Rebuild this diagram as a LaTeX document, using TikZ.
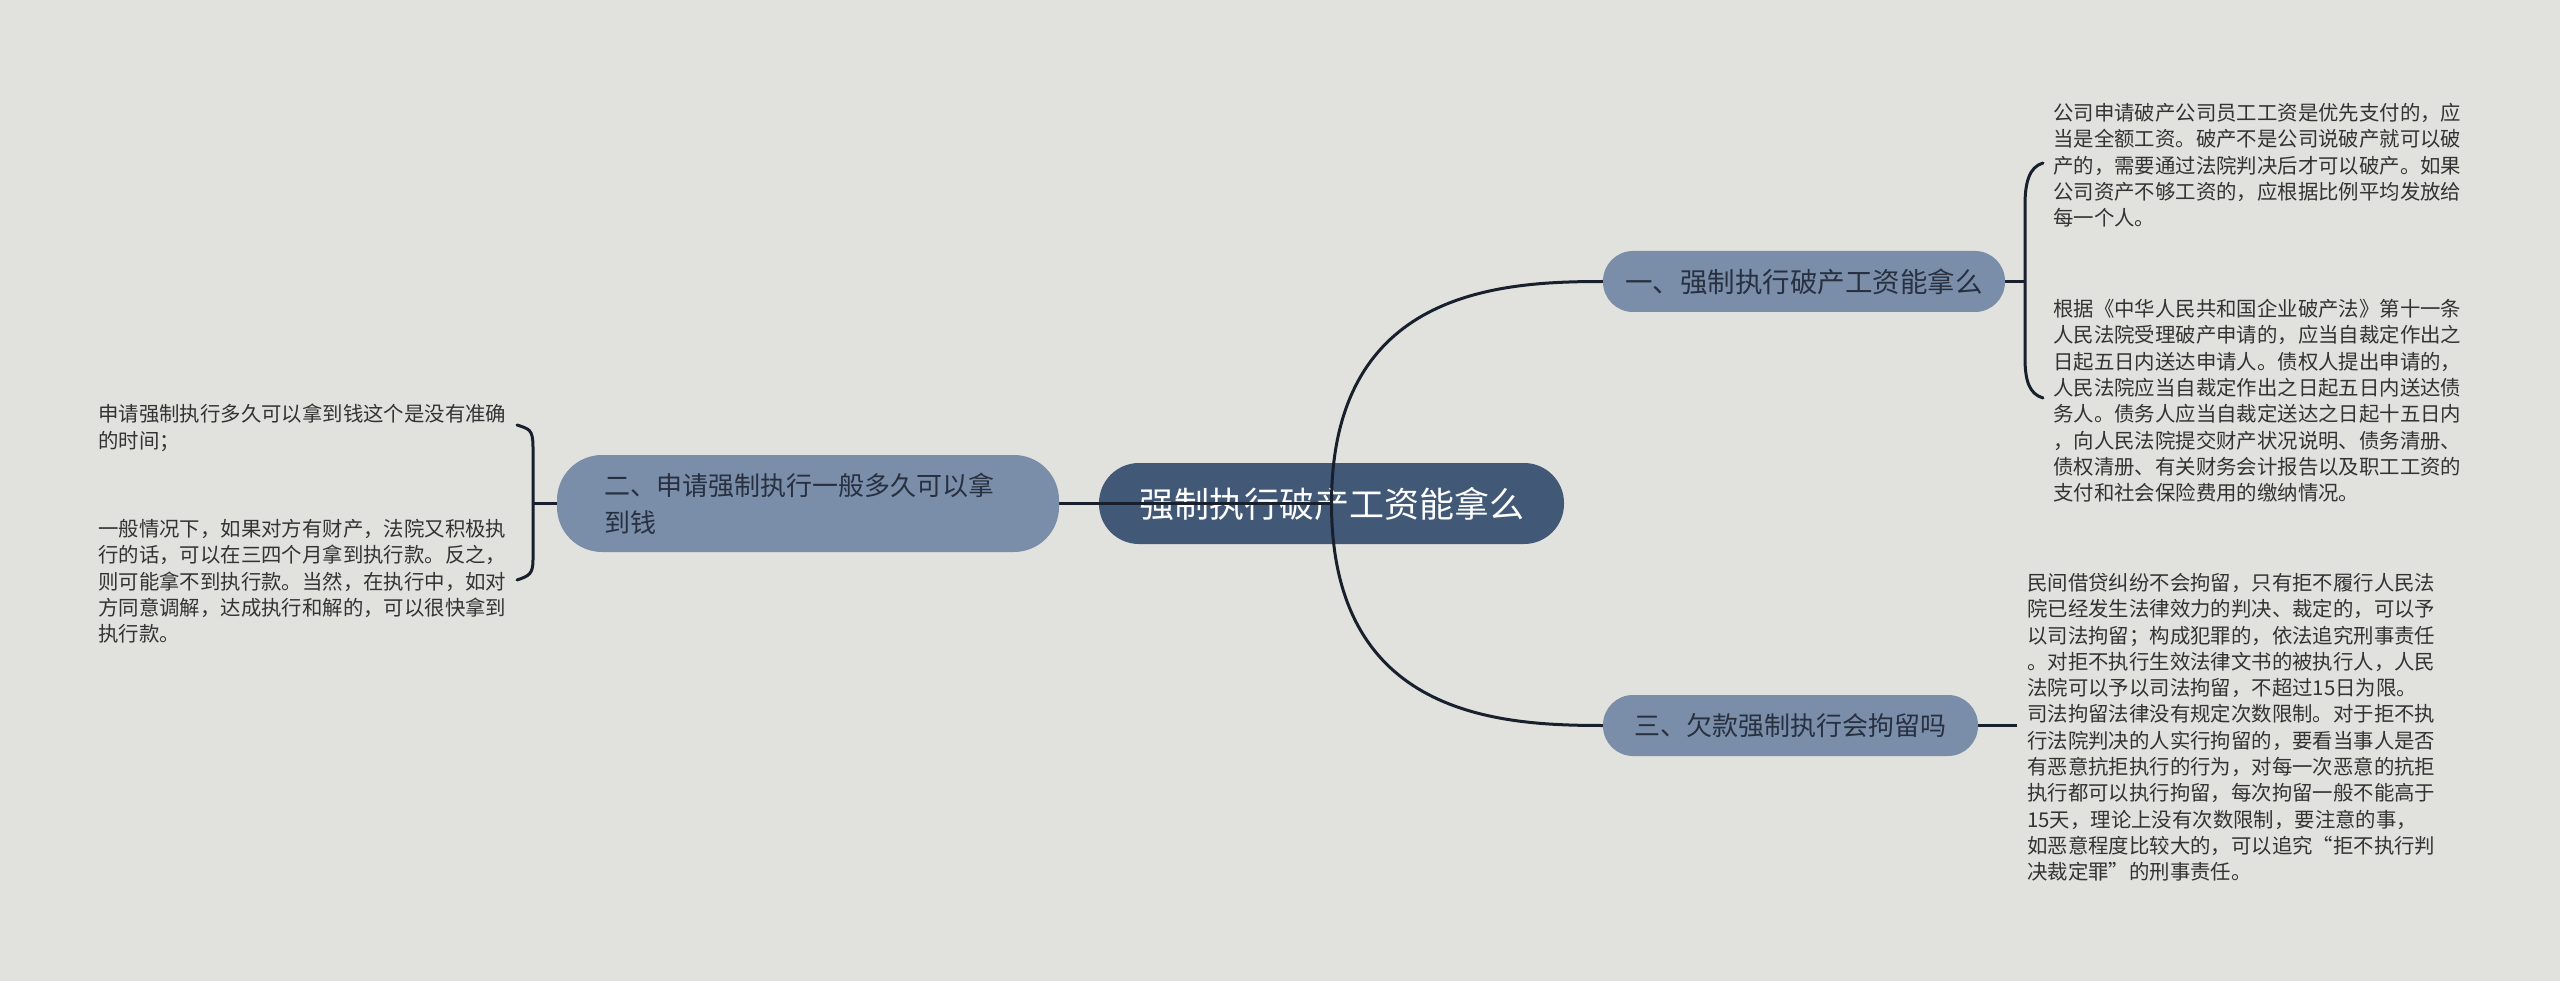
\documentclass[tikz,border=0pt]{standalone}
\usepackage{fontspec}
\newfontfamily\cjk{Noto Sans CJK SC}
\definecolor{bgc}{HTML}{E1E2DE}
\definecolor{rootc}{HTML}{415977}
\definecolor{branchc}{HTML}{7A8EAA}
\definecolor{linec}{HTML}{18202E}
\definecolor{txtc}{HTML}{283040}
\definecolor{leafc}{HTML}{333333}
\pgfdeclarelayer{back}
\pgfdeclarelayer{mid}
\pgfsetlayers{back,mid,main}
\begin{document}
\begin{tikzpicture}[x=1pt,y=-1pt,
  rootbox/.style={rectangle, rounded corners=40pt, fill=rootc, text=white,
    font=\cjk\fontsize{35}{42}\selectfont, minimum width=465pt, minimum height=81pt, inner sep=0pt},
  branchbox/.style={rectangle, rounded corners=30pt, fill=branchc, text=txtc,
    minimum height=61pt, inner sep=0pt},
  leaf/.style={anchor=north west, align=left, inner sep=0pt, text=leafc,
    font=\cjk\fontsize{20.4}{26.3}\selectfont},
  conn/.style={draw=linec, line width=3pt},
  brk/.style={draw=linec, line width=3pt, line cap=round},
]
\useasboundingbox (0,0) rectangle (2560,981);
\begin{pgfonlayer}{back}
  \fill[bgc] (0,0) rectangle (2560,981);
  \node[rootbox] (root) at (1331.5,503.5) {强制执行破产工资能拿么};
\end{pgfonlayer}

% branch nodes
\node[branchbox, minimum width=402pt, font=\cjk\fontsize{27.5}{34}\selectfont] (n1) at (1804,281.5) {一、强制执行破产工资能拿么};
\node[branchbox, minimum width=502pt, minimum height=97pt, rounded corners=45pt, text width=408pt, align=left,
  font=\cjk\fontsize{26}{37}\selectfont] (n2) at (808,503.5) {二、申请强制执行一般多久可以拿\\到钱};
\node[branchbox, minimum width=375pt, font=\cjk\fontsize{26}{32}\selectfont] (n3) at (1790.5,725.5) {三、欠款强制执行会拘留吗};

% leaves
\node[leaf] (l1a) at (2053,103) {公司申请破产公司员工工资是优先支付的，应\\当是全额工资。破产不是公司说破产就可以破\\产的，需要通过法院判决后才可以破产。如果\\公司资产不够工资的，应根据比例平均发放给\\每一个人。};
\node[leaf] (l1b) at (2053,299) {根据《中华人民共和国企业破产法》第十一条\\人民法院受理破产申请的，应当自裁定作出之\\日起五日内送达申请人。债权人提出申请的，\\人民法院应当自裁定作出之日起五日内送达债\\务人。债务人应当自裁定送达之日起十五日内\\，向人民法院提交财产状况说明、债务清册、\\债权清册、有关财务会计报告以及职工工资的\\支付和社会保险费用的缴纳情况。};
\node[leaf] (l2a) at (98,404) {申请强制执行多久可以拿到钱这个是没有准确\\的时间；};
\node[leaf] (l2b) at (98,519) {一般情况下，如果对方有财产，法院又积极执\\行的话，可以在三四个月拿到执行款。反之，\\则可能拿不到执行款。当然，在执行中，如对\\方同意调解，达成执行和解的，可以很快拿到\\执行款。};
\node[leaf] (l3) at (2027,573) {民间借贷纠纷不会拘留，只有拒不履行人民法\\院已经发生法律效力的判决、裁定的，可以予\\以司法拘留；构成犯罪的，依法追究刑事责任\\。对拒不执行生效法律文书的被执行人，人民\\法院可以予以司法拘留，不超过15日为限。\\司法拘留法律没有规定次数限制。对于拒不执\\行法院判决的人实行拘留的，要看当事人是否\\有恶意抗拒执行的行为，对每一次恶意的抗拒\\执行都可以执行拘留，每次拘留一般不能高于\\15天，理论上没有次数限制，要注意的事，\\如恶意程度比较大的，可以追究“拒不执行判\\决裁定罪”的刑事责任。};

% bracket coordinates
\coordinate (j1) at (2025,281.5);
\coordinate (b1t) at (2043,163);
\coordinate (b1b) at (2043,398);
\coordinate (j2) at (533,503.5);
\coordinate (b2t) at (517,425);
\coordinate (b2b) at (517,580);
\coordinate (j3) at (2017,725.5);

\begin{pgfonlayer}{mid}
  \draw[conn] (root.center) -- (n2.east);
  \draw[conn] (root.center) .. controls +(0,-213) and +(-104,0) .. (n1.west);
  \draw[conn] (root.center) .. controls +(0,213) and +(-104,0) .. (n3.west);
  \draw[conn] (n1.east) -- (j1);
  \draw[conn] (n2.west) -- (j2);
  \draw[conn] (n3.east) -- (j3);
  \draw[brk] (b1t) .. controls +(-14,4) and +(0,-22) .. (2025,205) -- (2025,358) .. controls +(0,22) and +(-14,-4) .. (b1b);
  \draw[brk] (b2t) .. controls +(12,4) and +(0,-18) .. (533,447) -- (533,560) .. controls +(0,14) and +(12,-4) .. (b2b);
\end{pgfonlayer}
\end{tikzpicture}
\end{document}
